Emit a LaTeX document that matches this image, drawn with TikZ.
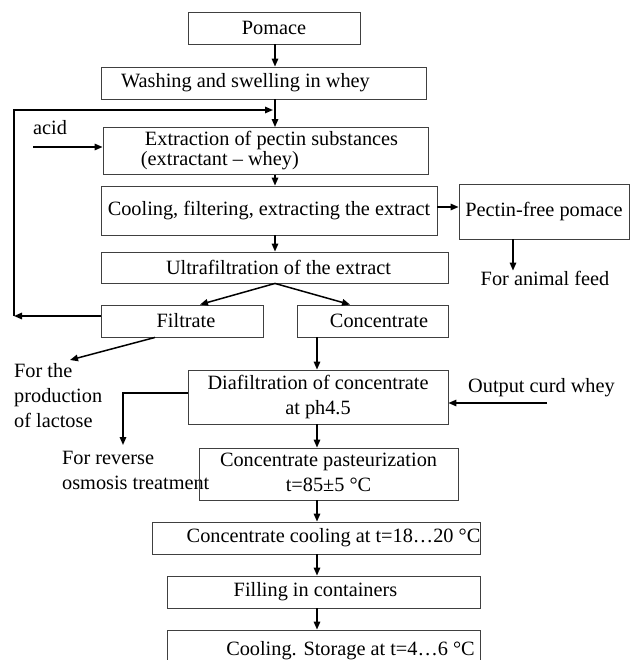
\documentclass[tikz,border=0pt]{standalone}
\usepackage{fontspec}
\setmainfont{Liberation Serif}
\usetikzlibrary{arrows.meta}
\newcommand{\twoline}[3]{\raisebox{#1}{\begin{tabular}{@{}c@{}}#2\\#3\end{tabular}}}
\tikzset{
  box/.style={draw=black!75, line width=0.9pt, inner sep=0pt, align=center},
  lbl/.style={inner sep=0pt, align=left},
  arr/.style={line width=1.5pt, -{Triangle[length=8pt,width=6.5pt]}}
}
\begin{document}
\begin{tikzpicture}[x=1pt, y=-1pt, font=\fontsize{20.3}{24}\selectfont]
\useasboundingbox (0,0) rectangle (630,660);
\clip (0,0) rectangle (630,660);
% spine coordinates
\coordinate (sA) at (275,0);
\coordinate (sB) at (317,0);
% boxes
\node[box, minimum width=172pt, minimum height=32pt] (pomace) at (274,28) {Pomace};
\node[box, minimum width=325pt, minimum height=32pt] (washing) at (263.5,83) {Washing and swelling in whey\hspace*{36pt}};
\node[box, minimum width=325pt, minimum height=47pt, align=left, font=\fontsize{20.3}{21}\selectfont] (extraction) at (265.5,151) {\hspace*{12pt}\raisebox{-1pt}{Extraction of pectin substances}\\\hspace*{8pt}(extractant – whey)};
\node[box, minimum width=336pt, minimum height=49pt] (cooling) at (269,210.5) {\raisebox{3pt}{Cooling, filtering, extracting the extract}};
\node[box, minimum width=170pt, minimum height=55pt] (pectin) at (544,211.5) {\raisebox{4pt}{Pectin-free pomace}};
\node[lbl] (feed) at (545,278) {For animal feed};
\node[box, minimum width=347pt, minimum height=31pt] (ultra) at (274.5,267.5) {Ultrafiltration of the extract\hspace*{-8pt}};
\node[box, minimum width=162pt, minimum height=32pt] (filtrate) at (182,321) {\hspace*{8pt}Filtrate};
\node[box, minimum width=151pt, minimum height=32pt] (concentrate) at (372.5,321) {\hspace*{13pt}Concentrate};
\node[lbl, anchor=north west, font=\fontsize{20.3}{25}\selectfont] (lactose) at (14,363) {For the\\production\\of lactose};
\node[box, minimum width=260pt, minimum height=54pt, font=\fontsize{20.3}{25}\selectfont] (diafil) at (318,397) {\twoline{-4pt}{Diafiltration of concentrate}{at ph4.5}};
\node[lbl] (curd) at (541.5,388) {Output curd whey};
\node[lbl, anchor=north west, font=\fontsize{20.3}{25}\selectfont] (reverse) at (62,451) {For reverse\\osmosis treatment};
\node[box, minimum width=259pt, minimum height=52pt, font=\fontsize{20.3}{25}\selectfont] (past) at (328.5,474) {\twoline{-3pt}{Concentrate pasteurization}{t=85±5 °C}};
\node[box, minimum width=327pt, minimum height=32pt] (ccool) at (316.5,538) {\hspace*{34pt}Concentrate cooling at t=18…20 °C};
\node[box, minimum width=313pt, minimum height=32pt] (filling) at (323.5,592) {Filling in containers\hspace*{16pt}};
\node[box, minimum width=313pt, minimum height=42pt] (storage) at (323.5,651) {\raisebox{-3pt}{\hspace*{54pt}Cooling. Storage at t=4…6 °C}};
\node[lbl] (acid) at (50,128) {acid};
% free-end coordinates
\coordinate (fbB) at (14,316);
\coordinate (fbC) at (273,110);
\coordinate (acidS) at (33,147);
\coordinate (lacT) at (70,360);
\coordinate (revT) at (123,445);
\coordinate (curdS) at (547,403);
% connectors
\draw[arr] (pomace.south -| sA) -- (washing.north -| sA);
\draw[arr] (washing.south -| sA) -- (extraction.north -| sA);
\draw[arr] (filtrate.west |- fbB) -- (fbB);
\draw[arr] (fbB) |- (fbC);
\draw[arr] (acidS) -- (acidS -| extraction.west);
\draw[arr] (extraction.south -| sA) -- (cooling.north -| sA);
\draw[arr] ([yshift=3.5pt]cooling.east) -- ([yshift=3.5pt]cooling.east -| pectin.west);
\draw[arr] ([xshift=-31pt]pectin.south) -- ([xshift=-31pt]pectin.south |- feed.north);
\draw[arr] (cooling.south -| sA) -- (ultra.north -| sA);
\draw[arr] (ultra.south -| sA) -- ([xshift=18pt]filtrate.north);
\draw[arr] (ultra.south -| sA) -- ([xshift=-22.5pt]concentrate.north);
\draw[arr] ([xshift=-27pt]filtrate.south) -- (lacT);
\draw[arr] (concentrate.south -| sB) -- (diafil.north -| sB);
\draw[arr] ([yshift=4pt]diafil.west) -| (revT);
\draw[arr] (curdS) -- (curdS -| diafil.east);
\draw[arr] (diafil.south -| sB) -- (past.north -| sB);
\draw[arr] (past.south -| sB) -- (ccool.north -| sB);
\draw[arr] (ccool.south -| sB) -- (filling.north -| sB);
\draw[arr] (filling.south -| sB) -- (storage.north -| sB);
\end{tikzpicture}
\end{document}
